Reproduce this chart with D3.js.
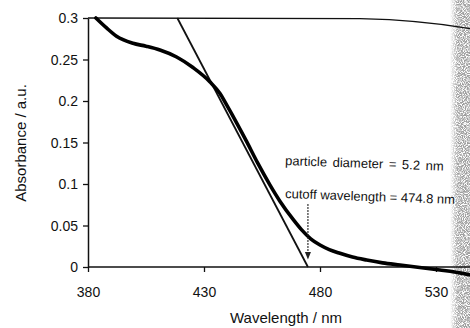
<!DOCTYPE html>
<html>
<head>
<meta charset="utf-8">
<script src="https://cdn.jsdelivr.net/npm/d3@7"></script>
<style>
  body { margin: 0; background: #fff; }
  svg { display: block; font-family: "Liberation Sans", Arial, sans-serif; }
</style>
</head>
<body>
<svg id="chart" width="470" height="328"></svg>
<script>
// absorbance spectrum
const wavelength = [383.4, 388, 392.3, 399.4, 405, 411, 418.2, 425.4, 432.6, 436.9, 440, 444, 448.4, 453, 458.4, 462.8, 468.5, 472, 476, 480, 484, 488.6, 494, 500.1, 507, 514.5, 523, 531.7, 538, 545]
const absorbance = [0.3, 0.288, 0.278, 0.2695, 0.266, 0.2614, 0.253, 0.24, 0.223, 0.209, 0.194, 0.174, 0.151, 0.126, 0.099, 0.079, 0.057, 0.045, 0.034, 0.0265, 0.021, 0.0165, 0.012, 0.0084, 0.005, 0.0024, -0.0005, -0.0036, -0.006, -0.0096]
// tangent used for the cutoff
const tangentX = [418.5, 474.8]
const tangentY = [0.3, 0]
const cutoff = 474.8
const xTicks = [380, 430, 480, 530]
const yTicks = [0, 0.05, 0.1, 0.15, 0.2, 0.25, 0.3]
const notes = ['particle diameter = 5.2 nm', 'cutoff wavelength = 474.8 nm']

const svg = d3.select('#chart')

const x = d3.scaleLinear().domain([380, 550]).range([88, 482.4])
const y = d3.scaleLinear().domain([0, 0.3]).range([267, 18])

// scanner shadow on the right edge
const defs = svg.append('defs')
const f = defs.append('filter').attr('id', 'grain')
f.append('feTurbulence').attr('type', 'fractalNoise').attr('baseFrequency', 1.1).attr('numOctaves', 1).attr('seed', 3)
f.append('feColorMatrix').attr('type', 'matrix')
  .attr('values', '0 0 0 0 0.35  0 0 0 0 0.35  0 0 0 0 0.35  0 0 0 -4 2.6')
f.append('feComposite').attr('in2', 'SourceGraphic').attr('operator', 'in')
const grad = defs.append('linearGradient').attr('id', 'fade')
grad.append('stop').attr('offset', '0%').attr('stop-color', '#fff').attr('stop-opacity', 0)
grad.append('stop').attr('offset', '40%').attr('stop-color', '#fff').attr('stop-opacity', 1)
svg.append('rect').attr('x', 450).attr('y', 0).attr('width', 20).attr('height', 328)
  .attr('fill', 'url(#fade)').attr('filter', 'url(#grain)')

// top border (page slightly bent on the scan)
svg.append('path')
  .attr('d', `M${x(380)},18 L360,18.7 Q420,20 470,28.7`)
  .attr('fill', 'none').attr('stroke', '#111').attr('stroke-width', 1.3)

// axes
const xAxis = svg.append('g').attr('transform', `translate(0,${y(0)})`)
  .call(d3.axisBottom(x).tickValues(xTicks).tickSize(5).tickSizeOuter(0).tickPadding(15))
const yAxis = svg.append('g').attr('transform', `translate(${x(380)},0)`)
  .call(d3.axisLeft(y).tickValues(yTicks).tickSize(5).tickSizeOuter(0).tickPadding(5)
    .tickFormat(d => d === 0 ? '0' : String(d)))
xAxis.select('.domain').attr('d', `M${x(380)},0H470`)
for (const g of [xAxis, yAxis]) {
  g.select('.domain').attr('stroke', '#111').attr('stroke-width', 1.5)
  g.selectAll('.tick line').attr('stroke', '#111').attr('stroke-width', 1.3)
  g.selectAll('.tick text').attr('fill', '#111').style('font-size', '14px')
    .style('font-family', '"Liberation Sans", Arial, sans-serif')
}
yAxis.selectAll('.tick text').attr('dy', '0.35em')

// tangent
svg.append('line')
  .attr('x1', x(tangentX[0])).attr('y1', y(tangentY[0]))
  .attr('x2', x(tangentX[1])).attr('y2', y(tangentY[1]))
  .attr('stroke', '#111').attr('stroke-width', 1.8)

// spectrum
const line = d3.line().x(d => x(d[0])).y(d => y(d[1])).curve(d3.curveMonotoneX)
svg.append('path')
  .datum(d3.zip(wavelength, absorbance))
  .attr('d', line)
  .attr('fill', 'none').attr('stroke', '#000').attr('stroke-width', 3.6)
  .attr('stroke-linecap', 'round')

// cutoff arrow
svg.append('line')
  .attr('x1', x(cutoff)).attr('y1', y(0.076))
  .attr('x2', x(cutoff)).attr('y2', y(0.013))
  .attr('stroke', '#222').attr('stroke-width', 1.1).attr('stroke-dasharray', '2,1')
svg.append('path')
  .attr('d', `M${x(cutoff) - 3},${y(0.018)} L${x(cutoff)},${y(0.009)} L${x(cutoff) + 3},${y(0.018)} Z`)
  .attr('fill', '#222')

// annotations
svg.selectAll('text.note').data(notes).enter().append('text')
  .attr('class', 'note')
  .attr('transform', (d, i) => `translate(285,${i ? 198 : 165}) rotate(2)`)
  .attr('fill', '#111').style('font-size', '13px')
  .style('word-spacing', (d, i) => i ? '0px' : '2px')
  .text(d => d)

// axis titles
svg.append('text').attr('x', 286).attr('y', 323).attr('text-anchor', 'middle')
  .attr('fill', '#111').style('font-size', '15px').text('Wavelength / nm')
svg.append('text').attr('transform', 'translate(26,143) rotate(-90)').attr('text-anchor', 'middle')
  .attr('fill', '#111').style('font-size', '15px').text('Absorbance / a.u.')
</script>
</body>
</html>
